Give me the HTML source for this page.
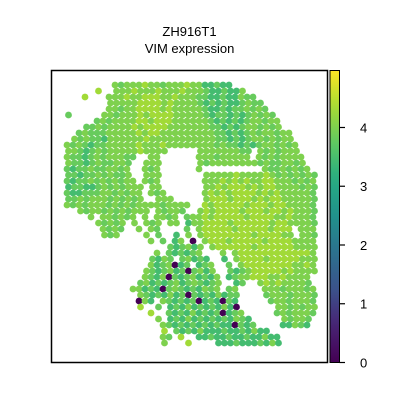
<!DOCTYPE html>
<html><head><meta charset="utf-8"><style>
html,body{margin:0;padding:0;background:#fff;}
svg{display:block;font-family:"Liberation Sans",sans-serif;}
</style></head><body>
<svg id="chart" width="400" height="400" viewBox="0 0 400 400">
<rect width="400" height="400" fill="#fff"/>
<text x="189.5" y="36" text-anchor="middle" font-size="13">ZH916T1</text>
<text x="189.5" y="53" text-anchor="middle" font-size="13">VIM expression</text>
<g id="spots"></g>
<rect x="51.5" y="70.5" width="276" height="292" fill="none" stroke="#000" stroke-width="1.5"/>
<defs><linearGradient id="vir" x1="0" y1="1" x2="0" y2="0"></linearGradient></defs>
<rect x="330" y="70.5" width="9.5" height="292" fill="url(#vir)" stroke="#000" stroke-width="1"/>
<g id="cbticks"></g>
</svg>
<script>
// spot grid: each row = list of [startColumn, valueCodes]; '.' = no spot
const rows = [
[],[],
[[10,"87888988788898866766"]],
[[7,"9"],[10,"8889888988898887667668"]],
[[5,"9"],[9,"8889889998898887766766877"]],
[[9,"88888999989888876767667877"]],
[[9,"887889999898888876676778787"]],
[[2,"7"],[8,"88788898999988888767767678787"]],
[[7,"7878888998999888888767676788788"]],
[[5,"778788889899998888888776767887878"]],
[[4,"787778888898998888888887767678788788"]],
[[3,"8787768888889888888888887767678878788"]],
[[2,"878767788888988898888888878776767887878"]],
[[2,"88767878888898888"],[24,"888888877.8787888"]],
[[2,"877678788877"],[16,"88"],[24,"888788888.87878888"]],
[[2,"87767877887"],[15,"888"],[24,"878888888878778878"]],
[[2,"76778778878"],[15,"878"],[24,"8"],[35,"87787878"]],
[[2,"77677878778"],[15,"888"],[25,"8888898888987878787"]],
[[2,"767787878788"],[15,"878"],[25,"8889898988998887878"]],
[[2,"6776678787888"],[16,"88"],[25,"8898999898998888787"]],
[[2,"7667778878788"],[16,"878"],[25,"8989899998989888887"]],
[[2,"7787888787878"],[17,"888"],[25,"8999899989899888887"]],
[[2,"878788878787888878888"],[25,"9899999899989988887"]],
[[4,"878878787888.87887"],[24,"89899998999899898887"]],
[[6,"8.887878.8.8878"],[22,"7889899999899998898887"]],
[[7,"87878"],[13,"8.878.88"],[22,"6889999899999989988887"]],
[[8,"8787"],[14,"8.87"],[22,"7.8999998999998999.888"]],
[[8,"878"],[15,"8.7"],[20,"6.8"],[24,"8999999998999988.887"]],
[[16,"8.7"],[20,"68.0"],[25,"8999899999899998888"]],
[[19,"767868"],[26,"899999989999998888"]],
[[17,"8.767678"],[28,"8"],[30,"89999999999998"]],
[[16,"7687.78676"],[28,"6"],[30,"89999899999888"]],
[[16,"8678067.678"],[29,"7"],[31,"8999999998898"]],
[[15,"876786707868"],[29,"767"],[32,"899999898888"]],
[[15,"8768076786768"],[29,"678"],[32,"89998898888"]],
[[14,"78676786787678"],[30,"67"],[34,"898988887"]],
[[13,"886760787676878.78"],[35,"888788878"]],
[[14,"87676867076768677"],[35,"788878887"]],
[[14,"0"],[15,"86"],[18,"8767670676076"],[36,"78878887"]],
[[14,"9"],[17,"7"],[19,"676867676860"],[37,"8878788"]],
[[16,"9"],[19,"7676867670678"],[37,"7878887"]],
[[17,"8"],[19,"67686767676876"],[38,"87887"]],
[[18,"8"],[19,"767676767660767"],[38,"66876"]],
[[18,"9"],[20,"76"],[22,"76866676676866"]],
[[18,"87"],[21,"9."],[24,"66766766766866"]],
[[18,"8"],[22,"9"],[27,"66676667686"]]
];
// expression value for each code
const codeValues = {"0":0,"5":2.6,"6":3.45,"7":3.8,"8":4.0,"9":4.3};
const cbTicks = [0,1,2,3,4];
const vmin = 0, vmax = 4.97;

const NS="http://www.w3.org/2000/svg";
const vir=[[0,[68,1,84]],[0.13,[72,36,117]],[0.25,[59,82,139]],[0.38,[44,114,142]],[0.5,[33,145,140]],[0.63,[39,173,129]],[0.75,[94,201,98]],[0.88,[170,220,50]],[1,[253,231,37]]];
function color(v){let t=Math.max(0,Math.min(1,(v-vmin)/(vmax-vmin)));
 for(let i=1;i<vir.length;i++){if(t<=vir[i][0]){const a=vir[i-1],b=vir[i],f=(t-a[0])/(b[0]-a[0]);
  return `rgb(${a[1].map((c,k)=>Math.round(c+(b[1][k]-c)*f)).join(',')})`;}}return 'rgb(253,231,37)';}
const xCol=c=>55+6*c, yRow=r=>73+6*r;
const g=document.getElementById('spots');
rows.forEach((segs,r)=>segs.forEach(([s,str])=>{
 for(let i=0;i<str.length;i++){const ch=str[i];if(ch==='.')continue;
  const v=codeValues[ch];
  const c=document.createElementNS(NS,'circle');
  c.setAttribute('cx',xCol(s+i)+((r%2)?1.5:0));c.setAttribute('cy',yRow(r));c.setAttribute('r',3.4);
  c.setAttribute('fill',color(v));
  
  
  g.appendChild(c);}
}));
const lg=document.getElementById('vir');
for(let i=0;i<=20;i++){const st=document.createElementNS(NS,'stop');st.setAttribute('offset',i/20);st.setAttribute('stop-color',color(vmin+(vmax-vmin)*i/20));lg.appendChild(st);}
const yCb=v=>362.5-(v-vmin)/(vmax-vmin)*292;
const tg=document.getElementById('cbticks');
cbTicks.forEach(t=>{const y=yCb(t);
 const l=document.createElementNS(NS,'line');l.setAttribute('x1',339.5);l.setAttribute('x2',345);l.setAttribute('y1',y);l.setAttribute('y2',y);l.setAttribute('stroke','#000');l.setAttribute('stroke-width',1.2);
 
 
 tg.appendChild(l);
 const tx=document.createElementNS(NS,'text');tx.setAttribute('x',360);tx.setAttribute('y',y+5);tx.setAttribute('font-size',13);tx.textContent=t;
 
 
 tg.appendChild(tx);});
</script>
</body></html>
